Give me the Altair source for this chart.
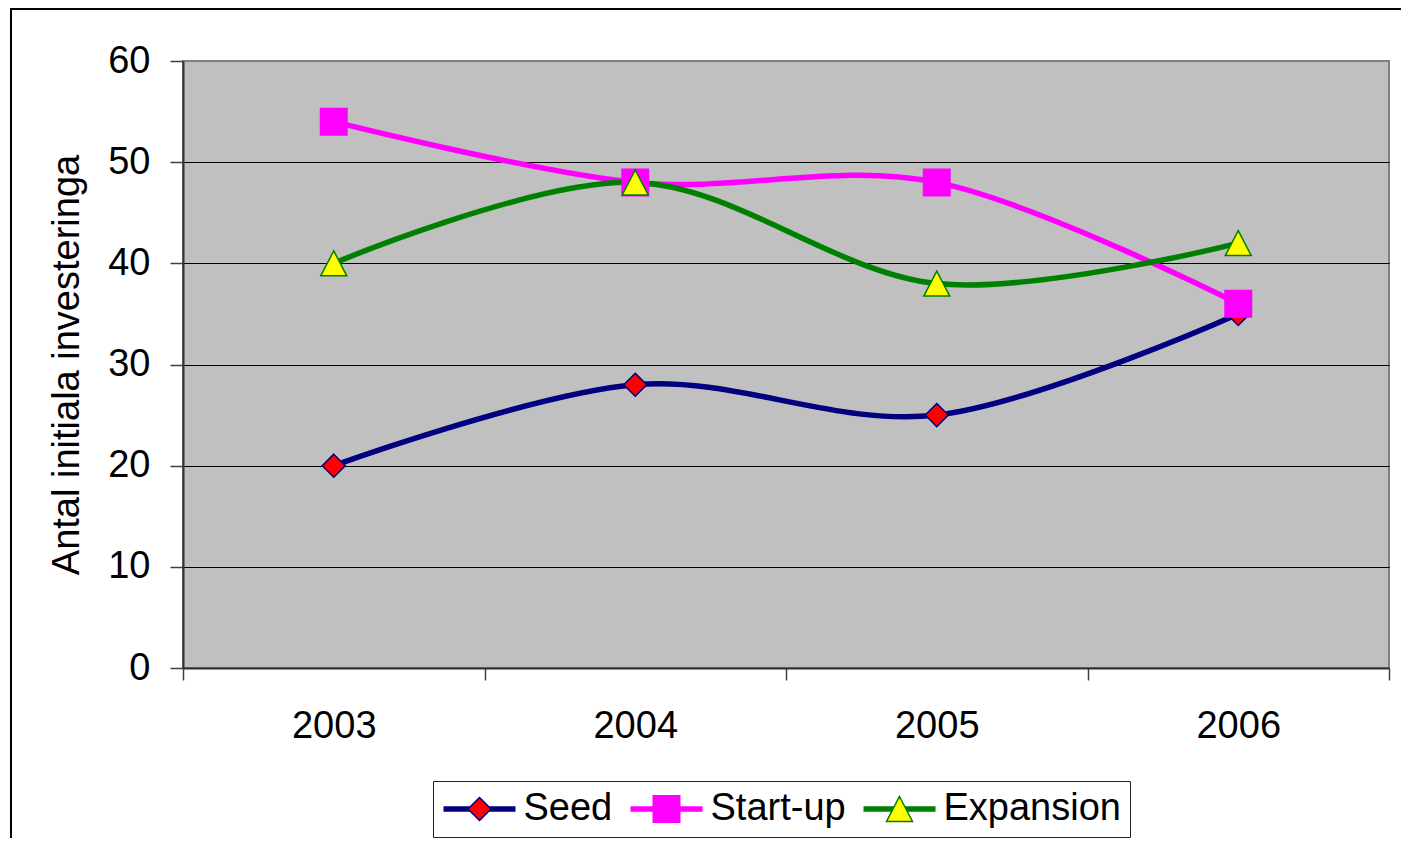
import altair as alt
import pandas as pd

years = ["2003", "2004", "2005", "2006"]
series_names = ["Seed", "Start-up", "Expansion"]
seed = [20, 28, 25, 35]
startup = [54, 48, 48, 36]
expansion = [40, 48, 38, 42]

line_colors = ["#000080", "#FF00FF", "#008000"]
marker_fills = ["#FF0000", "#FF00FF", "#FFFF00"]
marker_paths = [
    "M0,-2.3L2.3,0L0,2.3L-2.3,0Z",
    "M-2.65,-2.65H2.65V2.65H-2.65Z",
    "M0,-2.5L2.6,2.5L-2.6,2.5Z",
]


def half_w_diamond(ypx):
    return 11.5 - abs(ypx)


def half_w_square(ypx):
    return 13.25


def half_w_triangle(ypx):
    return 13 * (ypx + 12.5) / 25


def legend_symbol(marker, half_w):
    # line segments left and right of the marker (units: 5 px), then marker
    parts = []
    for ypx in [-2, -1, 0, 1, 2]:
        yu = ypx / 5
        hw = half_w(ypx) / 5
        parts.append(f"M-7.2,{yu}H{-hw:.3f}")
        parts.append(f"M{hw:.3f},{yu}H7.2")
    return "".join(parts) + marker


legend_paths = [
    legend_symbol(marker_paths[0], half_w_diamond),
    legend_symbol(marker_paths[1], half_w_square),
    legend_symbol(marker_paths[2], half_w_triangle),
]

rows = []
for name, vals in zip(series_names, [seed, startup, expansion]):
    for y, v in zip(years, vals):
        rows.append({"year": y, "series": name, "series_l": name, "value": v})
df = pd.DataFrame(rows)

FONT = "Liberation Sans"

x_enc = alt.X(
    "year:O",
    bandPosition=0.5,
    scale=alt.Scale(type="band", paddingInner=0, paddingOuter=0),
    axis=alt.Axis(
        title=None, labelAngle=0, tickBand="extent", tickSize=12, tickWidth=1.5,
        tickColor="#404040", domainColor="#303030", domainWidth=2,
        labelFontSize=38, labelFont=FONT, labelColor="black", labelPadding=27,
        grid=False,
    ),
)
y_enc = alt.Y(
    "value:Q",
    scale=alt.Scale(domain=[0, 60], nice=False),
    axis=alt.Axis(
        values=[0, 10, 20, 30, 40, 50, 60],
        title="Antal initiala investeringa",
        titleFontSize=38, titleFont=FONT, titleFontWeight="normal", titleColor="black",
        titlePadding=21,
        grid=True, gridWidth=1,
        gridColor={"condition": {"test": "datum.value == 60", "value": "#808080"}, "value": "black"},
        tickSize=13, tickWidth=1.5, tickColor="#404040",
        domainColor="#303030", domainWidth=2,
        labelFontSize=38, labelFont=FONT, labelColor="black", labelPadding=20,
    ),
)

lines = alt.Chart(df).mark_line(interpolate="cardinal", strokeWidth=5.5).encode(
    x=x_enc,
    y=y_enc,
    color=alt.Color("series:N", scale=alt.Scale(domain=series_names, range=line_colors), legend=None),
)

points = alt.Chart(df).mark_point(size=100, opacity=1, strokeWidth=1.5).encode(
    x=x_enc,
    y=y_enc,
    shape=alt.Shape("series:N", scale=alt.Scale(domain=series_names, range=marker_paths), legend=None),
    fill=alt.Fill("series:N", scale=alt.Scale(domain=series_names, range=marker_fills), legend=None),
    stroke=alt.Stroke("series:N", scale=alt.Scale(domain=series_names, range=line_colors), legend=None),
)

legend = alt.Legend(
    orient="none", legendX=250, legendY=720, direction="horizontal", title=None,
    symbolSize=100, symbolOffset=18.5, symbolStrokeWidth=1.5, symbolOpacity=1,
    labelOffset=25, labelFontSize=38, labelFont=FONT, labelColor="black",
    labelLimit=0, columnPadding=14, padding=9,
    strokeColor="#222222", fillColor="white",
)

legend_layer = alt.Chart(df).mark_point(size=100, opacity=0, strokeWidth=1.5).encode(
    x=x_enc,
    y=y_enc,
    shape=alt.Shape("series_l:N", scale=alt.Scale(domain=series_names, range=legend_paths), legend=legend),
    fill=alt.Fill("series_l:N", scale=alt.Scale(domain=series_names, range=marker_fills), legend=legend),
    stroke=alt.Stroke("series_l:N", scale=alt.Scale(domain=series_names, range=line_colors), legend=legend),
)

frame_df = pd.DataFrame({"k": [0]})
frame_top = alt.Chart(frame_df).mark_rule(color="black", strokeWidth=2).encode(
    x=alt.value(-172), x2=alt.value(1300), y=alt.value(-52)
)
frame_left = alt.Chart(frame_df).mark_rule(color="black", strokeWidth=2).encode(
    x=alt.value(-172), y=alt.value(-53), y2=alt.value(820)
)

chart = alt.layer(lines, points, legend_layer, frame_top, frame_left).resolve_scale(
    color="independent", shape="independent", fill="independent", stroke="independent"
).properties(
    width=1206,
    height=607,
    autosize=alt.AutoSizeParams(type="none"),
    padding={"left": 175, "top": 53, "right": 12, "bottom": 170},
    background="white",
).configure_view(
    fill="#C0C0C0", stroke="#808080", strokeWidth=2
)

chart.save("out.html", embed_options={"renderer": "svg", "actions": False})
